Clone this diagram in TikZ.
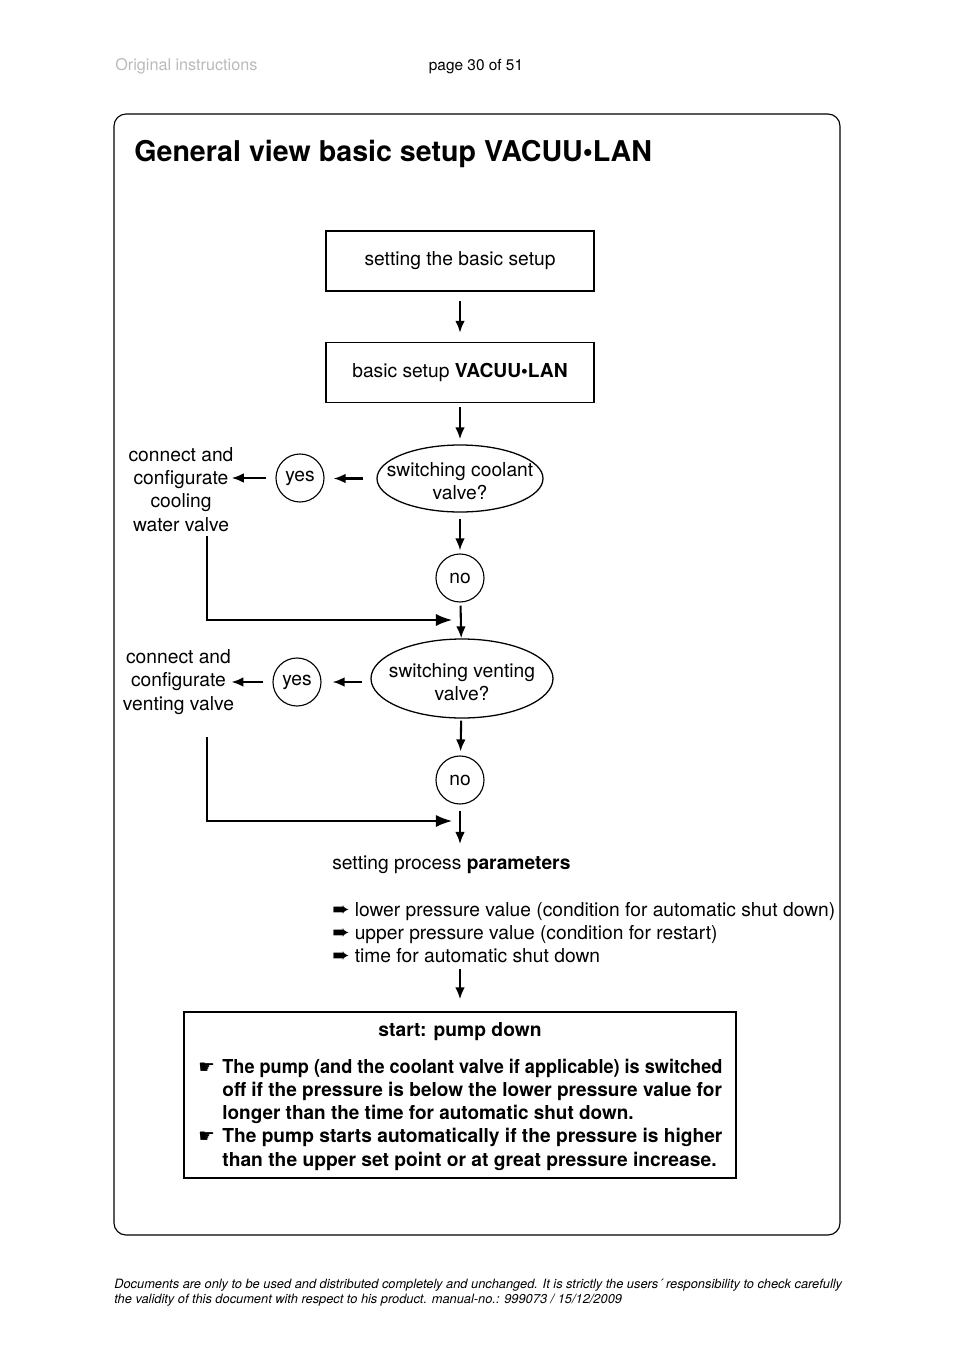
\documentclass[tikz,border=0pt]{standalone}
\usepackage{fontspec}
\usepackage{graphicx}
\setmainfont{TeX Gyre Heros}
\newfontfamily\symfont{DejaVu Sans}
\usetikzlibrary{arrows.meta,shapes.geometric,positioning}
\newcommand\px{0.6237pt}
\newcommand\hand{\makebox[15pt][l]{\symfont\fontsize{11.5}{12}\selectfont ☛}}
\newcommand\pointer{\makebox[14pt][l]{\symfont\fontsize{13}{12}\selectfont ➨}}

\begin{document}
\begin{tikzpicture}[
    x=\px, y=-\px,
    every node/.style={font=\fontsize{12}{14.4}\selectfont, inner sep=0pt},
    stepbox/.style={draw, line width=0.8pt, minimum width=268*\px, minimum height=60*\px},
    question/.style={ellipse, draw, line width=0.8pt},
    answer/.style={circle, draw, line width=0.7pt, minimum size=48*\px},
    arrow/.style={-{Latex[length=7.5pt,width=6pt]}, line width=1.3pt},
    merge/.style={-{Latex[length=10pt,width=7.5pt]}, line width=1pt}
]
\useasboundingbox (0,0) rectangle (954,1350);

% header and frame
\node[anchor=base west, text=black!27, font=\fontsize{10.1}{12}\selectfont] (hdr) at (115,71) {Original instructions};
\node[anchor=base, font=\fontsize{9.6}{11.5}\selectfont] (page) at (476,71) {page 30 of 51};
\draw[line width=0.7pt, rounded corners=7.5pt] (114,114) rectangle (840,1235);
\node[anchor=base west, font=\fontsize{17.85}{21}\selectfont\bfseries] (title) at (134,162) {General view basic setup VACUU•LAN};

% main chain
\node[stepbox] (basic) at (460,261) {setting the basic setup};
\node[stepbox] (lan) at (460,372.5) {basic setup \textbf{VACUU•LAN}};
\node[question, minimum width=166*\px, minimum height=67*\px,
      label={[align=center, yshift=-3*\px]center:switching coolant\\valve?}] (cool) at (460,478.5) {};
\node[answer] (yes1) at (300,478) {yes};
\node[align=center] (cooltxt) at (181,489.5) {connect and\\configurate\\cooling\\water valve};
\node[answer] (no1) at (460,578) {no};
\node[question, minimum width=182*\px, minimum height=79*\px,
      label={[align=center, yshift=-4*\px]center:switching venting\\valve?}] (vent) at (462,678.5) {};
\node[answer] (yes2) at (297,682) {yes};
\node[align=center] (venttxt) at (178.5,682) {connect and\\configurate\\venting valve};
\node[answer] (no2) at (460,780) {no};
\node[anchor=north west, align=left] (params) at (332,856) {setting process \textbf{parameters}\\[\baselineskip]
  \pointer lower pressure value (condition for automatic shut down)\\
  \pointer upper pressure value (condition for restart)\\
  \pointer time for automatic shut down};
\node[draw, line width=0.8pt, minimum width=552*\px, minimum height=166*\px] (pump) at (460,1095) {};
\node[font=\fontsize{12}{14.4}\selectfont\bfseries] (pumptitle) at (460,1032) {start: pump down};
\node[anchor=north west, align=left, font=\fontsize{12}{14.4}\selectfont\bfseries] (pumptxt) at (198,1059) {\hand\scalebox{0.942}[1]{The pump (and the coolant valve if applicable) is switched}\\
  \hspace*{15pt}\scalebox{0.99}[1]{off if the pressure is below the lower pressure value for}\\
  \hspace*{15pt}\scalebox{0.985}[1]{longer than the time for automatic shut down.}\\
  \hand\scalebox{0.996}[1]{The pump starts automatically if the pressure is higher}\\
  \hspace*{15pt}than the upper set point or at great pressure increase.};

% connectors
\coordinate (c1) at (207,536);
\coordinate (j1) at (452,620);
\coordinate (c2) at (207,737);
\coordinate (j2) at (452,821);

\draw[arrow, shorten <=9*\px, shorten >=9*\px] (basic) -- (lan);
\draw[arrow, shorten <=4*\px, shorten >=5*\px] (lan) -- (cool);
\draw[arrow, shorten <=13*\px, shorten >=9*\px] (cool.west) -- (yes1.east |- cool.west);
\draw[arrow, shorten <=9*\px, shorten >=-2*\px] (yes1.west) -- (yes1.west -| cooltxt.east);
\draw[arrow, shorten <=6*\px, shorten >=3*\px] (cool) -- (no1);
\draw[merge] (c1) |- (j1);
\draw[arrow, shorten <=3*\px] (no1) -- (vent);
\draw[arrow, shorten <=8*\px, shorten >=11*\px] (vent.west |- yes2) -- (yes2.east);
\draw[arrow, shorten <=9*\px, shorten >=-3*\px] (yes2.west) -- (yes2.west -| venttxt.east);
\draw[arrow, shorten <=2*\px, shorten >=4*\px] (vent) -- (no2);
\draw[merge] (c2) |- (j2);
\draw[arrow, shorten <=6*\px, shorten >=12*\px] (no2.south) -- (no2.south |- params.north);
\draw[arrow, shorten <=6*\px, shorten >=12*\px] (pump.north |- params.south) -- (pump.north);

% footer
\node[anchor=base west, align=left, font=\fontsize{8}{9.36}\selectfont\itshape] (foot) at (114,1303) {Documents are only to be used and distributed completely and unchanged. It is strictly the users´ responsibility to check carefully\\
  the validity of this document with respect to his product. manual-no.: 999073 / 15/12/2009};
\end{tikzpicture}
\end{document}
